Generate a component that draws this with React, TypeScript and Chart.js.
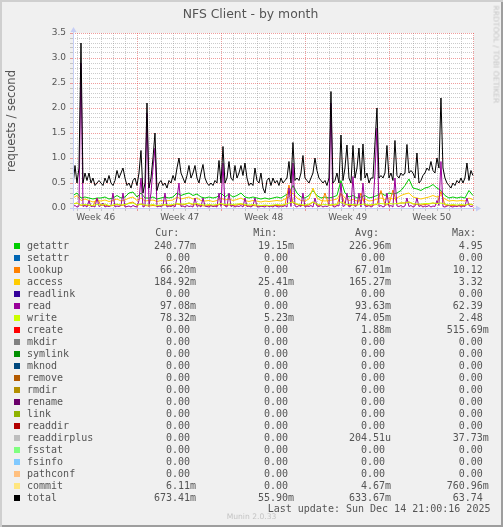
import React, { useEffect, useRef } from "react";
import { Chart, registerables } from "chart.js";

Chart.register(...registerables);

const TITLE = "NFS Client - by month";
const Y_TITLE = "requests / second";
const WATERMARK = "RRDTOOL / TOBI OETIKER";
const FOOTER = "Munin 2.0.33";
const LAST_UPDATE = "Last update: Sun Dec 14 21:00:16 2025";

// x axis in days relative to Monday 2025-11-17 00:00
const X_MIN = -5.39;
const X_MAX = 28.03;
const WEEK_LABELS = ["Week 46", "Week 47", "Week 48", "Week 49", "Week 50"];
const WEEK_CENTERS = [-3.5, 3.5, 10.5, 17.5, 24.5];
const DAY_LINES = [-5, -4, -3, -2, -1, 0, 1, 2, 3, 4, 5, 6, 7, 8, 9, 10, 11, 12, 13, 14, 15, 16, 17, 18, 19, 20, 21, 22, 23, 24, 25, 26, 27, 28];
const Y_TICKS = [0, 0.1, 0.2, 0.3, 0.4, 0.5, 0.6, 0.7, 0.8, 0.9, 1, 1.1, 1.2, 1.3, 1.4, 1.5, 1.6, 1.7, 1.8, 1.9, 2, 2.1, 2.2, 2.3, 2.4, 2.5, 2.6, 2.7, 2.8, 2.9, 3, 3.1, 3.2, 3.3, 3.4, 3.5];
const Y_LABELED = ["0.0", "0.5", "1.0", "1.5", "2.0", "2.5", "3.0", "3.5"];

// sample spacing in days
const FINE_STEP = 1 / 6; // 4 h
const COARSE_STEP = 1 / 3; // 8 h

const totalValues = [
  0.45, 0.85, 0.5, 0.8, 3.3, 0.5, 0.7, 0.55, 0.7, 0.5,
  0.6, 0.45, 0.5, 0.55, 0.5, 0.45, 0.6, 0.5, 0.65, 0.5,
  0.45, 0.55, 0.75, 0.6, 0.7, 0.8, 0.6, 0.45, 0.5, 0.4,
  0.55, 0.6, 0.45, 0.7, 1.15, 0.3, 0.5, 2.1, 0.4, 0.6,
  1.0, 1.5, 0.35, 0.5, 0.55, 0.45, 0.5, 0.4, 0.55, 0.5,
  0.65, 0.55, 0.8, 1.0, 0.7, 0.6, 0.5, 0.65, 0.85, 0.6,
  0.7, 0.85, 0.6, 0.5, 0.7, 0.87, 0.6, 0.5, 0.45, 0.5,
  0.45, 0.55, 0.5, 0.95, 0.5, 1.23, 0.5, 0.6, 0.93, 0.6,
  0.55, 0.85, 0.6, 0.7, 0.85, 0.65, 0.9, 0.6, 0.45, 0.5,
  0.45, 0.8, 0.55, 0.5, 0.7, 0.4, 0.3, 0.55, 0.6, 0.45,
  0.6, 0.5, 0.55, 0.45, 0.6, 0.5, 0.55, 0.6, 0.93, 0.5,
  1.31, 0.55, 0.6, 0.55, 0.7, 1.05, 0.6, 0.55, 0.5, 0.6,
  0.7, 1.0, 0.75, 0.6, 0.55, 0.5, 0.55, 0.45, 0.6, 2.33,
  0.5, 0.55, 0.7, 0.5, 1.46, 0.55, 0.8, 1.26, 0.6, 0.5,
  1.25, 0.6, 0.8, 1.2, 0.55, 1.28, 0.6, 0.7, 0.5, 0.6,
  0.6, 1.3, 2.0, 0.6, 0.65, 0.6, 0.7, 1.25, 0.6, 0.7,
  0.55, 1.35, 0.65, 0.6, 0.7, 0.65, 0.7, 1.27, 0.7, 0.75,
  0.7, 0.6, 1.1, 0.5, 0.55, 0.65, 0.7, 0.8, 0.75, 0.93,
  0.75, 0.7, 1.0, 0.8, 2.2, 0.8, 0.6, 0.5, 0.45, 0.4,
  0.5, 0.45, 0.55, 0.5, 0.6, 0.5, 0.6, 0.9, 0.55, 0.75, 0.65,
];

const readValues = [
  0.03, 0.05, 0.02, 0.04, 2.9, 0.03, 0.05, 0.02, 0.15, 0.03,
  0.04, 0.02, 0.2, 0.03, 0.05, 0.1, 0.02, 0.04, 0.03, 0.05,
  0.3, 0.02, 0.04, 0.03, 0.05, 0.3, 0.02, 0.03, 0.04, 0.02,
  0.05, 0.03, 0.02, 0.15, 0.6, 0.02, 0.04, 1.9, 0.03, 0.3,
  0.8, 1.2, 0.02, 0.04, 0.03, 0.05, 0.3, 0.02, 0.04, 0.03,
  0.05, 0.02, 0.2, 0.5, 0.03, 0.04, 0.02, 0.05, 0.03, 0.04,
  0.02, 0.2, 0.03, 0.05, 0.02, 0.2, 0.04, 0.03, 0.02, 0.05,
  0.03, 0.04, 0.02, 0.3, 0.03, 0.9, 0.04, 0.02, 0.3, 0.03,
  0.05, 0.02, 0.04, 0.03, 0.05, 0.02, 0.2, 0.03, 0.04, 0.02,
  0.05, 0.2, 0.03, 0.02, 0.04, 0.03, 0.02, 0.05, 0.03, 0.04,
  0.02, 0.05, 0.03, 0.02, 0.04, 0.03, 0.05, 0.02, 0.4, 0.03,
  0.9, 0.04, 0.02, 0.05, 0.03, 0.3, 0.02, 0.04, 0.03, 0.05,
  0.02, 0.2, 0.04, 0.03, 0.05, 0.02, 0.04, 0.03, 0.05, 2.1,
  0.03, 0.02, 0.05, 0.04, 0.5, 0.03, 0.05, 0.3, 0.02, 0.04,
  0.63, 0.03, 0.05, 0.3, 0.02, 0.5, 0.04, 0.03, 0.05, 0.02,
  0.04, 0.7, 1.6, 0.03, 0.05, 0.02, 0.04, 0.3, 0.03, 0.05,
  0.02, 0.6, 0.04, 0.03, 0.05, 0.02, 0.04, 0.2, 0.03, 0.05,
  0.02, 0.04, 0.2, 0.03, 0.05, 0.02, 0.04, 0.03, 0.05, 0.02,
  0.04, 0.03, 0.15, 0.05, 0.93, 0.03, 0.02, 0.04, 0.05, 0.03,
  0.02, 0.04, 0.03, 0.05, 0.02, 0.04, 0.03, 0.2, 0.05, 0.03, 0.04,
];

const getattrValues = [
  0.25, 0.3, 0.2, 0.22, 0.2, 0.18, 0.2, 0.2, 0.22, 0.18,
  0.2, 0.25, 0.2, 0.22, 0.3, 0.32, 0.22, 0.3, 0.2, 0.2,
  0.22, 0.18, 0.2, 0.22, 0.2, 0.22, 0.3, 0.25, 0.28, 0.3,
  0.25, 0.28, 0.22, 0.2, 0.22, 0.2, 0.22, 0.3, 0.22, 0.28,
  0.22, 0.25, 0.3, 0.22, 0.2, 0.22, 0.2, 0.18, 0.2, 0.18,
  0.2, 0.22, 0.2, 0.25, 0.3, 0.45, 0.3, 0.22, 0.2, 0.25,
  0.35, 0.25, 0.2, 0.22, 0.2, 0.22, 0.25, 0.55, 0.3, 0.22,
  0.25, 0.2, 0.22, 0.25, 0.2, 0.22, 0.25, 0.3, 0.25, 0.3,
  0.28, 0.3, 0.35, 0.45, 0.58, 0.4, 0.38, 0.35, 0.4, 0.42,
  0.47, 0.4, 0.35, 0.25, 0.2, 0.22, 0.2, 0.22, 0.2, 0.35, 0.25,
];

const accessValues = [
  0.2, 0.25, 0.15, 0.18, 0.15, 0.12, 0.15, 0.14, 0.16, 0.13,
  0.15, 0.18, 0.14, 0.16, 0.2, 0.22, 0.15, 0.2, 0.14, 0.15,
  0.16, 0.13, 0.15, 0.14, 0.15, 0.16, 0.22, 0.18, 0.2, 0.22,
  0.18, 0.2, 0.15, 0.14, 0.15, 0.13, 0.15, 0.2, 0.16, 0.18,
  0.15, 0.17, 0.2, 0.15, 0.13, 0.15, 0.14, 0.12, 0.14, 0.13,
  0.14, 0.15, 0.14, 0.18, 0.22, 0.3, 0.2, 0.15, 0.14, 0.18,
  0.4, 0.2, 0.15, 0.14, 0.15, 0.16, 0.18, 0.3, 0.2, 0.15,
  0.17, 0.14, 0.15, 0.18, 0.14, 0.15, 0.18, 0.2, 0.17, 0.2,
  0.18, 0.2, 0.25, 0.28, 0.3, 0.22, 0.2, 0.18, 0.2, 0.22,
  0.25, 0.22, 0.25, 0.18, 0.14, 0.15, 0.14, 0.15, 0.14, 0.2, 0.17,
];

const lookupValues = [
  0.08, 0.1, 0.05, 0.06, 0.05, 0.04, 0.2, 0.05, 0.06, 0.04,
  0.05, 0.07, 0.05, 0.06, 0.1, 0.12, 0.05, 0.08, 0.05, 0.04,
  0.05, 0.04, 0.05, 0.06, 0.05, 0.05, 0.08, 0.06, 0.07, 0.1,
  0.06, 0.07, 0.05, 0.04, 0.05, 0.04, 0.05, 0.08, 0.05, 0.06,
  0.05, 0.06, 0.08, 0.05, 0.04, 0.05, 0.04, 0.04, 0.05, 0.04,
  0.05, 0.05, 0.05, 0.06, 0.46, 0.1, 0.07, 0.05, 0.05, 0.06,
  0.12, 0.06, 0.05, 0.3, 0.05, 0.06, 0.06, 0.3, 0.08, 0.05,
  0.06, 0.05, 0.3, 0.06, 0.05, 0.06, 0.07, 0.35, 0.06, 0.07,
  0.36, 0.08, 0.1, 0.1, 0.12, 0.08, 0.07, 0.06, 0.07, 0.08,
  0.1, 0.08, 0.33, 0.06, 0.05, 0.05, 0.04, 0.05, 0.05, 0.08, 0.06,
];

const writeValues = [
  0.08, 0.1, 0.06, 0.07, 0.06, 0.05, 0.07, 0.06, 0.08, 0.05,
  0.06, 0.08, 0.06, 0.07, 0.09, 0.1, 0.06, 0.08, 0.06, 0.06,
  0.07, 0.05, 0.06, 0.07, 0.06, 0.07, 0.09, 0.08, 0.08, 0.1,
  0.08, 0.09, 0.07, 0.06, 0.07, 0.06, 0.07, 0.09, 0.07, 0.08,
  0.07, 0.08, 0.09, 0.07, 0.06, 0.07, 0.06, 0.05, 0.06, 0.05,
  0.06, 0.07, 0.06, 0.07, 0.1, 0.12, 0.08, 0.07, 0.06, 0.08,
  0.12, 0.08, 0.06, 0.07, 0.06, 0.07, 0.08, 0.12, 0.08, 0.07,
  0.07, 0.06, 0.07, 0.08, 0.06, 0.07, 0.08, 0.09, 0.08, 0.09,
  0.08, 0.09, 0.1, 0.1, 0.12, 0.09, 0.08, 0.08, 0.09, 0.09,
  0.1, 0.09, 0.1, 0.08, 0.06, 0.07, 0.06, 0.07, 0.06, 0.08, 0.07,
];

// legend table
const NAMES = ["getattr", "setattr", "lookup", "access", "readlink", "read", "write", "create", "mkdir", "symlink", "mknod", "remove", "rmdir", "rename", "link", "readdir", "readdirplus", "fsstat", "fsinfo", "pathconf", "commit", "total"];
const COLORS = ["#00CC00", "#0066B3", "#FF8000", "#FFCC00", "#330099", "#990099", "#CCFF00", "#FF0000", "#808080", "#008F00", "#00487D", "#B35A00", "#B38F00", "#6B006B", "#8FB300", "#B30000", "#BEBEBE", "#80FF80", "#80C9FF", "#FFC080", "#FFE680", "#000000"];
const CUR = ["240.77m", "0.00", "66.20m", "184.92m", "0.00", "97.08m", "78.32m", "0.00", "0.00", "0.00", "0.00", "0.00", "0.00", "0.00", "0.00", "0.00", "0.00", "0.00", "0.00", "0.00", "6.11m", "673.41m"];
const MIN = ["19.15m", "0.00", "0.00", "25.41m", "0.00", "0.00", "5.23m", "0.00", "0.00", "0.00", "0.00", "0.00", "0.00", "0.00", "0.00", "0.00", "0.00", "0.00", "0.00", "0.00", "0.00", "55.90m"];
const AVG = ["226.96m", "0.00", "67.01m", "165.27m", "0.00", "93.63m", "74.05m", "1.88m", "0.00", "0.00", "0.00", "0.00", "0.00", "0.00", "0.00", "0.00", "204.51u", "0.00", "0.00", "0.00", "4.67m", "633.67m"];
const MAX = ["4.95", "0.00", "10.12", "3.32", "0.00", "62.39", "2.48", "515.69m", "0.00", "0.00", "0.00", "0.00", "0.00", "0.00", "0.00", "0.00", "37.73m", "0.00", "0.00", "0.00", "760.96m", "63.74"];

const SERIES = [
  { name: "getattr", values: getattrValues, step: COARSE_STEP },
  { name: "lookup", values: lookupValues, step: COARSE_STEP },
  { name: "access", values: accessValues, step: COARSE_STEP },
  { name: "read", values: readValues, step: FINE_STEP },
  { name: "write", values: writeValues, step: COARSE_STEP },
  { name: "total", values: totalValues, step: FINE_STEP },
];

const MINOR_GRID = "rgba(140,140,140,0.45)";
const MAJOR_GRID = "rgba(225,60,60,0.5)";
const AXIS_COLOR = "#C6CEF5";
const TEXT_COLOR = "#555555";
const MONO = "'DejaVu Sans Mono', monospace";
const SANS = "'DejaVu Sans', sans-serif";

const framePlugin = {
  id: "rrdFrame",
  beforeDraw(chart: any) {
    const { ctx, chartArea: a } = chart;
    ctx.save();
    ctx.fillStyle = "#FFFFFF";
    ctx.fillRect(a.left, a.top, a.right - a.left, a.bottom - a.top);
    ctx.restore();
  },
  afterDraw(chart: any) {
    const { ctx, chartArea: a } = chart;
    ctx.save();
    ctx.strokeStyle = AXIS_COLOR;
    ctx.fillStyle = AXIS_COLOR;
    ctx.lineWidth = 1;
    ctx.beginPath();
    ctx.moveTo(a.left + 0.5, a.bottom + 3);
    ctx.lineTo(a.left + 0.5, a.top - 2);
    ctx.moveTo(a.left - 3, a.bottom + 0.5);
    ctx.lineTo(a.right + 3, a.bottom + 0.5);
    ctx.stroke();
    ctx.beginPath();
    ctx.moveTo(a.left - 2.5, a.top - 1);
    ctx.lineTo(a.left + 3.5, a.top - 1);
    ctx.lineTo(a.left + 0.5, a.top - 6);
    ctx.closePath();
    ctx.fill();
    ctx.beginPath();
    ctx.moveTo(a.right + 2, a.bottom - 2.5);
    ctx.lineTo(a.right + 2, a.bottom + 3.5);
    ctx.lineTo(a.right + 7, a.bottom + 0.5);
    ctx.closePath();
    ctx.fill();
    ctx.restore();
  },
};

function fmtField(s: string) {
  const last = s[s.length - 1];
  const suffix = /[a-zA-Z]/.test(last);
  const num = suffix ? s.slice(0, -1) : s;
  return num.padStart(6, " ") + (suffix ? last : " ");
}

export default function App() {
  const ref = useRef<HTMLCanvasElement>(null);

  useEffect(() => {
    if (!ref.current) return;
    const datasets = SERIES.map((s, idx) => ({
      label: s.name,
      data: s.values.map((v, i) => ({ x: X_MIN + i * s.step, y: v })),
      borderColor: COLORS[NAMES.indexOf(s.name)],
      backgroundColor: COLORS[NAMES.indexOf(s.name)],
      borderWidth: 1,
      pointRadius: 0,
      tension: 0,
      fill: false,
      order: -idx,
    }));
    const xTicks = [...DAY_LINES, ...WEEK_CENTERS].sort((a, b) => a - b);
    const chart = new Chart(ref.current, {
      type: "line",
      data: { datasets },
      plugins: [framePlugin],
      options: {
        animation: false,
        responsive: false,
        maintainAspectRatio: false,
        events: [],
        layout: { padding: { left: 0, right: 29, top: 33, bottom: 0 } },
        plugins: { legend: { display: false }, tooltip: { enabled: false }, title: { display: false } },
        scales: {
          x: {
            type: "linear",
            min: X_MIN,
            max: X_MAX,
            afterBuildTicks: (s: any) => {
              s.ticks = xTicks.map((v) => ({ value: v }));
            },
            afterFit: (s: any) => {
              s.height = 319;
            },
            grid: {
              color: (c: any) => {
                const v = c.tick ? c.tick.value : 0;
                if (!Number.isInteger(v)) return "rgba(0,0,0,0)";
                return v % 7 === 0 ? MAJOR_GRID : MINOR_GRID;
              },
              lineWidth: 1,
              drawTicks: true,
              tickLength: 3,
            },
            border: { display: false, dash: [1, 1] },
            ticks: {
              autoSkip: false,
              maxRotation: 0,
              minRotation: 0,
              padding: 1,
              color: TEXT_COLOR,
              font: { family: SANS, size: 9 },
              callback: (v: any) => {
                const k = WEEK_CENTERS.indexOf(Number(v));
                return k >= 0 ? WEEK_LABELS[k] : "";
              },
            },
          },
          y: {
            type: "linear",
            min: 0,
            max: 3.5,
            afterBuildTicks: (s: any) => {
              s.ticks = Y_TICKS.map((v) => ({ value: v }));
            },
            afterFit: (s: any) => {
              s.width = 73;
            },
            grid: {
              color: (c: any) => {
                const v = c.tick ? c.tick.value : 0;
                return Math.round(v * 10) % 5 === 0 ? MAJOR_GRID : MINOR_GRID;
              },
              lineWidth: 1,
              drawTicks: true,
              tickLength: 3,
            },
            border: { display: false, dash: [1, 1] },
            ticks: {
              autoSkip: false,
              padding: 4,
              color: TEXT_COLOR,
              font: { family: SANS, size: 9 },
              callback: (v: any) => {
                const t = Math.round(Number(v) * 10);
                return t % 5 === 0 ? Y_LABELED[t / 5] : "";
              },
            },
          },
        },
      },
    } as any);
    return () => chart.destroy();
  }, []);

  const rowTop = (k: number) => 241 + 12 * k;

  return (
    <div
      style={{
        position: "fixed",
        left: 0,
        top: 0,
        width: 503,
        height: 527,
        background: "#F0F0F0",
        boxShadow: "inset 2px 2px 0 #CFCFCF, inset -2px -2px 0 #9E9E9E",
        overflow: "hidden",
        color: TEXT_COLOR,
      }}
    >
      <canvas ref={ref} width={503} height={527} style={{ position: "absolute", left: 0, top: 0, width: 503, height: 527 }} />
      <div style={{ position: "absolute", left: 0, top: 7.8, width: 501, textAlign: "center", fontFamily: SANS, fontSize: 12.4, lineHeight: 1, whiteSpace: "pre" }}>{TITLE}</div>
      <div
        style={{
          position: "absolute",
          left: 11 - 100,
          top: 121.3 - 6,
          width: 200,
          height: 12,
          textAlign: "center",
          fontFamily: SANS,
          fontSize: 11.5,
          lineHeight: "12px",
          transform: "rotate(-90deg)",
          whiteSpace: "pre",
        }}
      >
        {Y_TITLE}
      </div>
      <div
        style={{
          position: "absolute",
          left: 495.5 - 60,
          top: 54 - 4.5,
          width: 120,
          height: 9,
          textAlign: "center",
          fontFamily: SANS,
          fontSize: 7.6,
          lineHeight: "9px",
          color: "#C4C4C4",
          transform: "rotate(90deg)",
          whiteSpace: "pre",
        }}
      >
        {WATERMARK}
      </div>
      <div style={{ position: "absolute", fontFamily: MONO, fontSize: 10, lineHeight: 1, whiteSpace: "pre", left: 155.3, top: 228 }}>Cur:</div>
      <div style={{ position: "absolute", fontFamily: MONO, fontSize: 10, lineHeight: 1, whiteSpace: "pre", left: 253.3, top: 228 }}>Min:</div>
      <div style={{ position: "absolute", fontFamily: MONO, fontSize: 10, lineHeight: 1, whiteSpace: "pre", left: 355, top: 228 }}>Avg:</div>
      <div style={{ position: "absolute", fontFamily: MONO, fontSize: 10, lineHeight: 1, whiteSpace: "pre", left: 452, top: 228 }}>Max:</div>
      {NAMES.map((n, k) => (
        <React.Fragment key={n}>
          <div style={{ position: "absolute", left: 14, top: rowTop(k) + 2, width: 6, height: 6, background: COLORS[k] }} />
          <div style={{ position: "absolute", fontFamily: MONO, fontSize: 10, lineHeight: 1, whiteSpace: "pre", left: 27, top: rowTop(k) }}>{n}</div>
          <div style={{ position: "absolute", fontFamily: MONO, fontSize: 10, lineHeight: 1, whiteSpace: "pre", left: 154, top: rowTop(k) }}>{fmtField(CUR[k])}</div>
          <div style={{ position: "absolute", fontFamily: MONO, fontSize: 10, lineHeight: 1, whiteSpace: "pre", left: 252, top: rowTop(k) }}>{fmtField(MIN[k])}</div>
          <div style={{ position: "absolute", fontFamily: MONO, fontSize: 10, lineHeight: 1, whiteSpace: "pre", left: 349, top: rowTop(k) }}>{fmtField(AVG[k])}</div>
          <div style={{ position: "absolute", fontFamily: MONO, fontSize: 10, lineHeight: 1, whiteSpace: "pre", left: 446.7, top: rowTop(k) }}>{fmtField(MAX[k])}</div>
        </React.Fragment>
      ))}
      <div style={{ position: "absolute", fontFamily: MONO, fontSize: 10, lineHeight: 1, whiteSpace: "pre", left: 267.7, top: 504.2 }}>{LAST_UPDATE}</div>
      <div style={{ position: "absolute", left: 0, top: 513, width: 503, textAlign: "center", fontFamily: SANS, fontSize: 7.6, lineHeight: 1, color: "#C4C4C4", whiteSpace: "pre" }}>{FOOTER}</div>
    </div>
  );
}
